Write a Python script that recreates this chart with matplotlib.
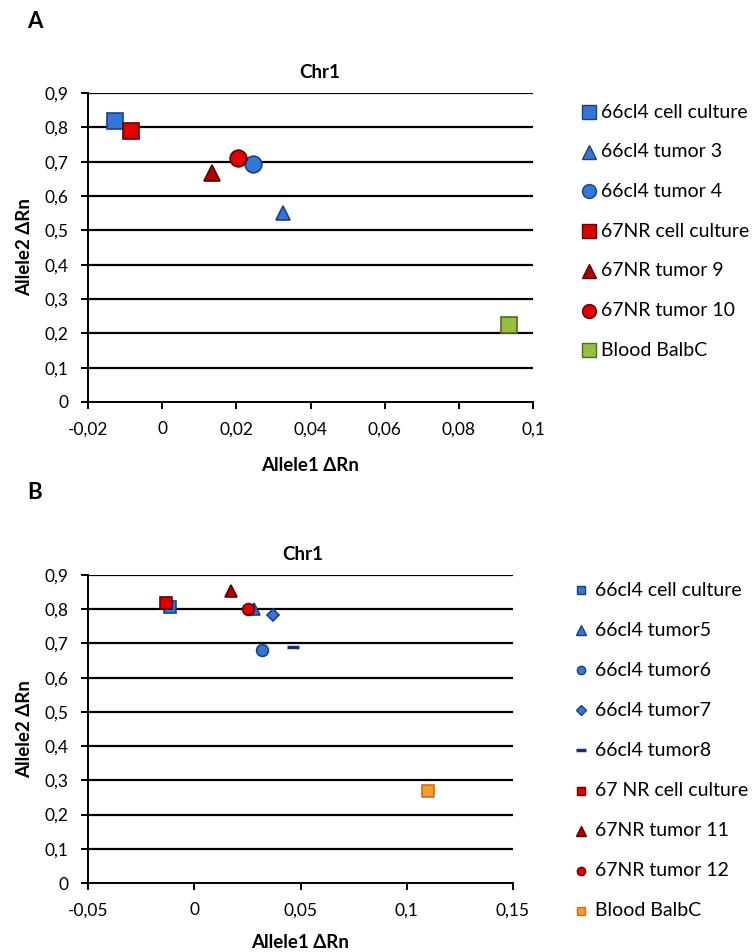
import matplotlib
matplotlib.use("Agg")
import matplotlib.pyplot as plt
from matplotlib.lines import Line2D

plt.rcParams['font.family'] = ['Lato', 'DejaVu Sans']

# ---------------- data ----------------
labels_a = ["66cl4 cell culture", "66cl4 tumor 3", "66cl4 tumor 4",
            "67NR cell culture", "67NR tumor 9", "67NR tumor 10", "Blood BalbC"]
x_a = [-0.0128, 0.0326, 0.0246, -0.0085, 0.0135, 0.0205, 0.0936]
y_a = [0.819, 0.550, 0.694, 0.789, 0.666, 0.710, 0.224]

labels_b = ["66cl4 cell culture", "66cl4 tumor5", "66cl4 tumor6", "66cl4 tumor7",
            "66cl4 tumor8", "67 NR cell culture", "67NR tumor 11", "67NR tumor 12",
            "Blood BalbC"]
x_b = [-0.0115, 0.0281, 0.0317, 0.0370, 0.0463, -0.0134, 0.0172, 0.0255, 0.1101]
y_b = [0.806, 0.800, 0.680, 0.783, 0.691, 0.819, 0.853, 0.801, 0.270]

xticks_a = [-0.02, 0, 0.02, 0.04, 0.06, 0.08, 0.1]
xticklabels_a = ["-0,02", "0", "0,02", "0,04", "0,06", "0,08", "0,1"]
xticks_b = [-0.05, 0, 0.05, 0.1, 0.15]
xticklabels_b = ["-0,05", "0", "0,05", "0,1", "0,15"]
yticks = [0, 0.1, 0.2, 0.3, 0.4, 0.5, 0.6, 0.7, 0.8, 0.9]
yticklabels = ["0", "0,1", "0,2", "0,3", "0,4", "0,5", "0,6", "0,7", "0,8", "0,9"]

# ---------------- styles ----------------
BLUE, BLUE_E = "#3476d2", "#1b3f86"
RED, RED_E = "#e00000", "#600000"
DRED, DRED_E = "#b80000", "#500000"
GREEN, GREEN_E = "#93c040", "#4f6e1c"
ORANGE, ORANGE_E = "#f39a30", "#d07010"
NAVY = "#1c2f66"

# marker, face, edge, size in plot, size in legend
style_a = [
    dict(marker="s", fc=BLUE, ec=BLUE_E, ms=12, lms=10),
    dict(marker="^", fc=BLUE, ec=BLUE_E, ms=10.5, lms=10),
    dict(marker="o", fc=BLUE, ec=BLUE_E, ms=12, lms=10),
    dict(marker="s", fc=RED, ec=RED_E, ms=12, lms=10),
    dict(marker="^", fc=DRED, ec=DRED_E, ms=12, lms=10),
    dict(marker="o", fc=RED, ec=RED_E, ms=12, lms=10),
    dict(marker="s", fc=GREEN, ec=GREEN_E, ms=12, lms=10),
]
style_b = [
    dict(marker="s", fc=BLUE, ec=BLUE_E, ms=8.5, lms=5.5),
    dict(marker="^", fc=BLUE, ec=BLUE_E, ms=8.5, lms=6.5),
    dict(marker="o", fc=BLUE, ec=BLUE_E, ms=8.5, lms=6),
    dict(marker="D", fc=BLUE, ec=BLUE_E, ms=6.5, lms=5),
    dict(marker="_", fc=NAVY, ec=NAVY, ms=9, lms=7, mew=2.5),
    dict(marker="s", fc=RED, ec=RED_E, ms=8.5, lms=5.5),
    dict(marker="^", fc=DRED, ec=DRED_E, ms=8.5, lms=6.5),
    dict(marker="o", fc=RED, ec=RED_E, ms=8.5, lms=6),
    dict(marker="s", fc=ORANGE, ec=ORANGE_E, ms=8.5, lms=5.5),
]

W, H = 753, 952
fig = plt.figure(figsize=(W / 100, H / 100), dpi=100)


def fx(px):
    return px / W


def fy(py):
    return 1 - py / H


def make_axes(l, t, r, b):
    return fig.add_axes([fx(l), fy(b), (r - l) / W, (b - t) / H])


def style_axes(ax, xlim, xticks, xticklabels, xlabelpad):
    ax.set_xlim(xlim)
    ax.set_ylim(0, 0.9)
    ax.set_xticks(xticks)
    ax.set_xticklabels(xticklabels, fontsize=12.5)
    ax.set_yticks(yticks)
    ax.set_yticklabels(yticklabels, fontsize=12.5)
    for yv in yticks[1:]:
        ax.axhline(yv, color="black", lw=1.6, zorder=1)
    for s in ["top", "right"]:
        ax.spines[s].set_visible(False)
    for s in ["left", "bottom"]:
        ax.spines[s].set_linewidth(1.4)
        ax.spines[s].set_zorder(2)
    ax.tick_params(axis="both", direction="out", length=5, width=1.4)
    ax.tick_params(axis="x", pad=9)
    ax.tick_params(axis="y", pad=9)
    ax.set_xlabel("Allele1 ΔRn", fontsize=13.5, fontweight="bold", labelpad=xlabelpad)
    ax.set_ylabel("Allele2 ΔRn", fontsize=13.5, fontweight="bold", labelpad=8)


def plot_points(ax, xs, ys, styles):
    for x, y, st in zip(xs, ys, styles):
        ax.plot([x], [y], linestyle="none", marker=st["marker"], ms=st["ms"],
                mfc=st["fc"], mec=st["ec"], mew=st.get("mew", 1.2), zorder=3,
                clip_on=False)


def draw_legend(styles, labels, mx, tx, y0, dy):
    for i, (st, lab) in enumerate(zip(styles, labels)):
        y = y0 + i * dy
        fig.add_artist(Line2D([fx(mx)], [fy(y)], linestyle="none", marker=st["marker"],
                              ms=st["lms"], mfc=st["fc"], mec=st["ec"],
                              mew=st.get("mew", 1.0) if st["marker"] == "_" else 1.0,
                              transform=fig.transFigure))
        fig.text(fx(tx), fy(y), lab, fontsize=14, ha="left", va="center")


# Panel A
axA = make_axes(88, 93, 533, 402)
style_axes(axA, (-0.02, 0.1), xticks_a, xticklabels_a, 14)
plot_points(axA, x_a, y_a, style_a)
fig.text(fx(320), fy(78), "Chr1", fontsize=13.5, fontweight="bold", ha="center", va="baseline")
draw_legend(style_a, labels_a, 589, 601, 112, 39.7)

# Panel B
axB = make_axes(88, 575, 513, 883)
style_axes(axB, (-0.05, 0.15), xticks_b, xticklabels_b, 11)
plot_points(axB, x_b, y_b, style_b)
fig.text(fx(303), fy(560), "Chr1", fontsize=13.5, fontweight="bold", ha="center", va="baseline")
draw_legend(style_b, labels_b, 581, 595, 590, 40.1)

fig.text(fx(27), fy(21), "A", fontsize=16, fontweight="bold", va="center", ha="left")
fig.text(fx(27), fy(492), "B", fontsize=16, fontweight="bold", va="center", ha="left")

fig.savefig("out.png", dpi=100, facecolor="white")
